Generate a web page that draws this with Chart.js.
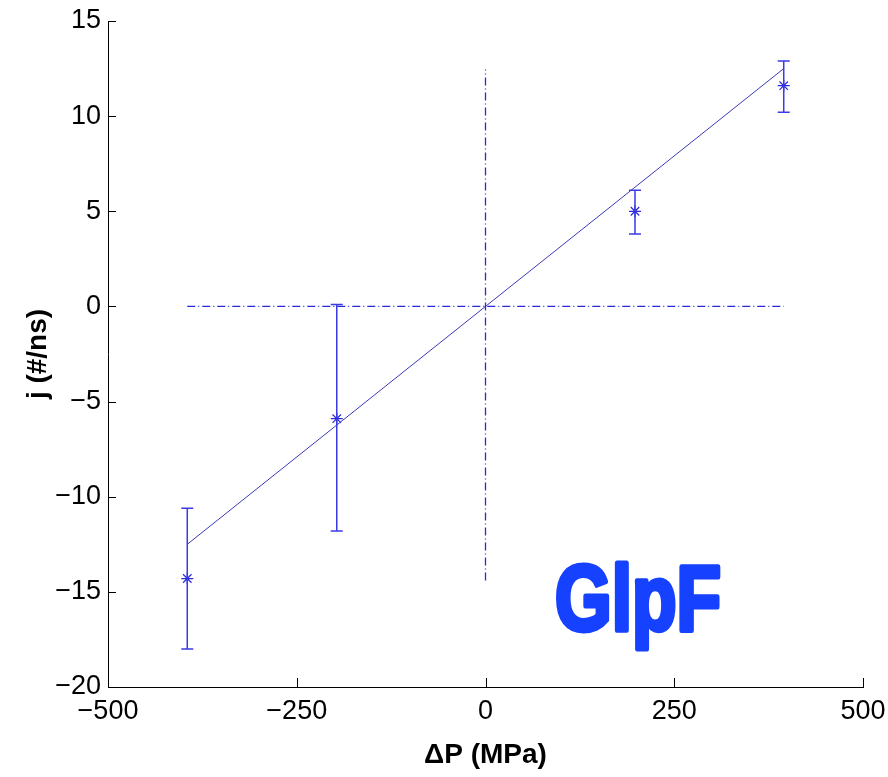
<!DOCTYPE html>
<html>
<head>
<meta charset="utf-8">
<script src="https://cdn.jsdelivr.net/npm/chart.js@4"></script>
<style>
  body { margin: 0; background: #fff; }
  canvas { display: block; }
</style>
</head>
<body>
<canvas id="chart" width="888" height="777"></canvas>
<script>
// Measured points: pressure difference (MPa) vs flux j (#/ns)
const pressure = [-395, -197, 198, 395];
const flux = [-14.3, -5.9, 5.0, 11.6];
const fluxLow = [-18.0, -11.8, 3.8, 10.2];
const fluxHigh = [-10.6, 0.1, 6.1, 12.9];

// Linear fit through origin
const fitX = [-395, 395];
const fitY = [-12.5, 12.5];

// Dash-dot reference lines at zero
const zeroH = [{ x: -395, y: 0 }, { x: 395, y: 0 }];
const zeroV = [{ x: 0, y: -14.4 }, { x: 0, y: 12.45 }];

const xTicks = [-500, -250, 0, 250, 500];
const yTicks = [-20, -15, -10, -5, 0, 5, 10, 15];
const labelText = 'GlpF';

const blue = '#2a2ad8';
const tickFont = { family: '"Liberation Sans", Arial, sans-serif', size: 27 };
const titleFont = { family: '"Liberation Sans", Arial, sans-serif', size: 28, weight: 'bold' };

// Swap hyphen for a real minus sign like the original
function fmt(v) {
    return String(v).replace('-', '\u2212');
}

// Error bars, inward ticks and the protein label
const extras = {
    id: 'extras',
    afterDatasetsDraw(chart) {
        const { ctx, scales: { x, y }, chartArea } = chart;
        ctx.save();
        ctx.strokeStyle = '#3a3ae6';
        ctx.lineWidth = 1.5;
        pressure.forEach((p, i) => {
            const px = x.getPixelForValue(p);
            const lo = y.getPixelForValue(fluxLow[i]);
            const hi = y.getPixelForValue(fluxHigh[i]);
            ctx.beginPath();
            ctx.moveTo(px, lo); ctx.lineTo(px, hi);
            ctx.moveTo(px - 6, lo); ctx.lineTo(px + 6, lo);
            ctx.moveTo(px - 6, hi); ctx.lineTo(px + 6, hi);
            ctx.stroke();
        });

        ctx.strokeStyle = '#000';
        ctx.lineWidth = 1;
        ctx.beginPath();
        xTicks.forEach(t => {
            const px = Math.round(x.getPixelForValue(t)) + 0.5;
            ctx.moveTo(px, chartArea.bottom); ctx.lineTo(px, chartArea.bottom - 9);
        });
        yTicks.forEach(t => {
            const py = Math.round(y.getPixelForValue(t)) + 0.5;
            ctx.moveTo(chartArea.left, py); ctx.lineTo(chartArea.left + 8, py);
        });
        ctx.stroke();

        // label anchored in data space
        const lx = x.getPixelForValue(92);
        const ly = y.getPixelForValue(-17.0);
        ctx.font = 'bold 92px "Liberation Sans", Arial, sans-serif';
        const w = ctx.measureText(labelText).width;
        ctx.translate(lx, ly);
        ctx.scale(166 / w, 1);
        ctx.fillStyle = '#1541ff';
        ctx.strokeStyle = '#1541ff';
        ctx.lineWidth = 5;
        ctx.lineJoin = 'round';
        ctx.textBaseline = 'alphabetic';
        ctx.fillText(labelText, 0, 0);
        ctx.strokeText(labelText, 0, 0);
        ctx.restore();
    }
};

new Chart(document.getElementById('chart').getContext('2d'), {
    type: 'scatter',
    data: {
        datasets: [
            {
                data: zeroH,
                showLine: true,
                borderColor: blue,
                borderWidth: 1.3,
                borderDash: [8, 3, 1, 3],
                pointRadius: 0
            },
            {
                data: zeroV,
                showLine: true,
                borderColor: blue,
                borderWidth: 1.3,
                borderDash: [8, 3, 1, 3],
                pointRadius: 0
            },
            {
                data: fitX.map((v, i) => ({ x: v, y: fitY[i] })),
                showLine: true,
                borderColor: '#3a3ab8',
                borderWidth: 1,
                pointRadius: 0
            },
            {
                data: pressure.map((v, i) => ({ x: v, y: flux[i] })),
                pointStyle: 'star',
                pointRadius: 6,
                borderColor: blue,
                borderWidth: 1.2
            }
        ]
    },
    options: {
        responsive: false,
        animation: false,
        layout: { padding: { top: 21, right: 25, left: 0, bottom: 0 } },
        plugins: {
            legend: { display: false },
            tooltip: { enabled: false }
        },
        scales: {
            x: {
                type: 'linear',
                min: -500,
                max: 500,
                afterBuildTicks: s => { s.ticks = xTicks.map(v => ({ value: v })); },
                afterFit: s => { s.height = 90; s.paddingLeft = 0; s.paddingRight = 0; },
                grid: { drawOnChartArea: false, drawTicks: false },
                border: { display: true, color: '#000', width: 1 },
                ticks: { font: tickFont, color: '#000', padding: 8, maxRotation: 0, callback: fmt },
                title: { display: true, text: '\u0394P (MPa)', font: titleFont, color: '#000', padding: { top: 0, bottom: 5 } }
            },
            y: {
                min: -20,
                max: 15,
                afterBuildTicks: s => { s.ticks = yTicks.map(v => ({ value: v })); },
                afterFit: s => { s.width = 108; s.paddingTop = 0; s.paddingBottom = 0; },
                grid: { drawOnChartArea: false, drawTicks: false },
                border: { display: true, color: '#000', width: 1 },
                ticks: { font: tickFont, color: '#000', padding: 7, callback: fmt },
                title: { display: true, text: 'j (#/ns)', font: titleFont, color: '#000', padding: { top: 21, bottom: 0 } }
            }
        }
    },
    plugins: [extras]
});
</script>
</body>
</html>
